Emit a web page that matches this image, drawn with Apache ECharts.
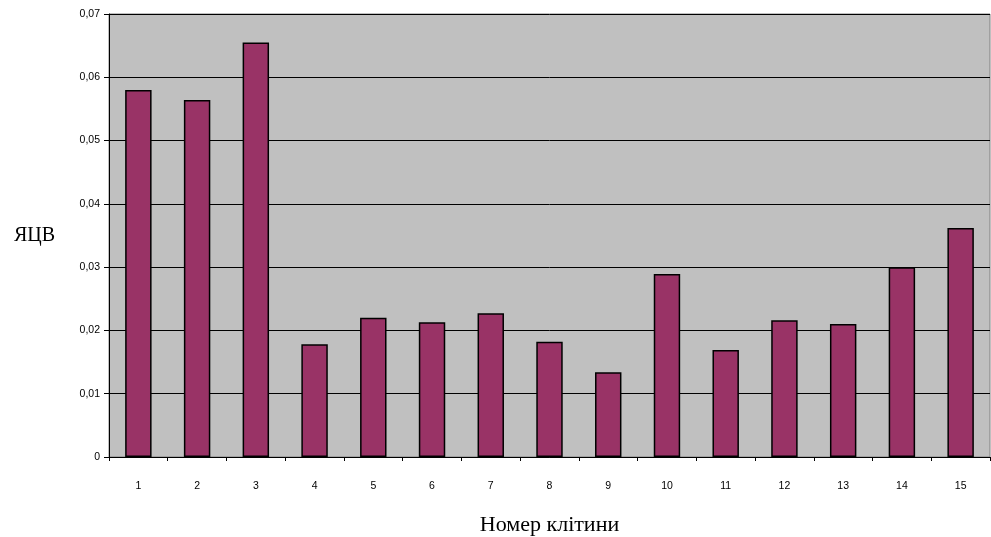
<!DOCTYPE html>
<html><head><meta charset="utf-8">
<script src="https://cdn.jsdelivr.net/npm/echarts@6/dist/echarts.min.js"></script>
<style>html,body{margin:0;padding:0;background:#fff}#c{width:991px;height:537px}</style>
</head><body><div id="c"></div>
<script>
const categories = ['1','2','3','4','5','6','7','8','9','10','11','12','13','14','15'];
const values = [0.0580, 0.0564, 0.0655, 0.0178, 0.0220, 0.0213, 0.0227, 0.0182, 0.0134, 0.0289, 0.0169, 0.0216, 0.0210, 0.0300, 0.0362];
const yTicks = [0, 0.01, 0.02, 0.03, 0.04, 0.05, 0.06, 0.07];

const chart = echarts.init(document.getElementById('c'));
chart.setOption({
  animation: false,
  grid: { left: 109, right: 1, top: 14, bottom: 80, backgroundColor: '#c0c0c0', show: true, borderColor: '#808080', borderWidth: 1, outerBoundsMode: 'none', containLabel: false },
  xAxis: {
    type: 'category', data: categories,
    name: 'Номер клітини', nameLocation: 'middle', nameGap: 57,
    nameTextStyle: { fontFamily: 'Liberation Serif', fontSize: 22, color: '#000' },
    axisLine: { lineStyle: { color: '#000', width: 1 } },
    axisTick: { show: true, alignWithLabel: false, length: 4, lineStyle: { color: '#000' } },
    axisLabel: { fontFamily: 'Liberation Sans', fontSize: 10.5, color: '#000', margin: 24 }
  },
  yAxis: {
    type: 'value', min: 0, max: 0.07, interval: 0.01,
    name: 'ЯЦВ', nameLocation: 'middle', nameGap: 54, nameRotate: 0,
    nameTextStyle: { fontFamily: 'Liberation Serif', fontSize: 20, color: '#000' },
    axisLine: { show: true, lineStyle: { color: '#000', width: 1 } },
    axisTick: { show: true, length: 5, lineStyle: { color: '#000' } },
    axisLabel: { fontFamily: 'Liberation Sans', fontSize: 10.5, color: '#000', margin: 9,
      formatter: v => { const i = yTicks.findIndex(t => Math.abs(t - v) < 1e-9); return i === 0 ? '0' : yTicks[i].toFixed(2).replace('.', ','); } },
    splitLine: { lineStyle: { color: '#000', width: 1 } }
  },
  series: [{
    type: 'bar', data: values, barWidth: '45%',
    itemStyle: { color: '#993366', borderColor: '#000', borderWidth: 1.5 }
  }]
});
</script></body></html>
